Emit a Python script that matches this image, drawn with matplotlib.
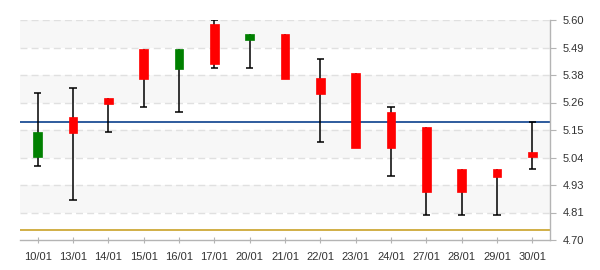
import numpy as np
import matplotlib
matplotlib.use("Agg")
import matplotlib.pyplot as plt

plt.rcParams['font.family'] = ['Liberation Sans', 'DejaVu Sans']

# daily candles
dates  = ["10/01", "13/01", "14/01", "15/01", "16/01", "17/01", "20/01", "21/01",
          "22/01", "23/01", "24/01", "27/01", "28/01", "29/01", "30/01"]
opens  = [5.041, 5.203, 5.281, 5.481, 5.401, 5.584, 5.520, 5.543,
          5.363, 5.383, 5.224, 5.162, 4.990, 4.990, 5.060]
highs  = [5.300, 5.322, 5.281, 5.481, 5.481, 5.599, 5.543, 5.543,
          5.439, 5.383, 5.243, 5.162, 4.990, 4.990, 5.181]
lows   = [5.001, 4.862, 5.140, 5.244, 5.222, 5.402, 5.402, 5.360,
          5.100, 5.078, 4.960, 4.801, 4.801, 4.801, 4.989]
closes = [5.142, 5.139, 5.258, 5.360, 5.481, 5.421, 5.543, 5.360,
          5.299, 5.078, 5.078, 4.898, 4.898, 4.959, 5.041]

ref_blue = 5.181
ref_gold = 4.7395
y_min, y_max = 4.70, 5.60
y_labels = ["4.70", "4.81", "4.93", "5.04", "5.15", "5.26", "5.38", "5.49", "5.60"]

opens = np.array(opens)
closes = np.array(closes)
highs = np.array(highs)
lows = np.array(lows)
x = np.arange(len(dates))

fig = plt.figure(figsize=(6, 2.7), dpi=100)
ax = fig.add_axes([20/600, 30/270, 530/600, 220/270])

# alternating background bands
ticks = np.linspace(y_min, y_max, 9)
for i in range(8):
    lo, hi = ticks[7 - i], ticks[8 - i]
    if i % 2 == 0:
        ax.axhspan(lo, hi, color='#f7f7f7', zorder=0, lw=0)
for t in ticks[1:]:
    ax.axhline(t, color='#e0e0e0', lw=1.0, ls=(0, (5, 3)), zorder=1)

ax.axhline(ref_blue, color='#0a3f8c', lw=1.2, zorder=2)
ax.axhline(ref_gold, color='#c9a227', lw=1.2, zorder=2)

# wicks and caps
ax.vlines(x, lows, highs, color='black', lw=1.1, zorder=3)
body_top = np.maximum(opens, closes)
body_bot = np.minimum(opens, closes)
cap_w = 0.1
for xi, h, l, bt, bb in zip(x, highs, lows, body_top, body_bot):
    if h > bt + 0.003:
        ax.hlines(h, xi - cap_w, xi + cap_w, color='black', lw=1.1, zorder=3)
    if l < bb - 0.003:
        ax.hlines(l, xi - cap_w, xi + cap_w, color='black', lw=1.1, zorder=3)

colors = np.where(closes > opens, '#008000', '#ff0000')
ax.bar(x, body_top - body_bot, bottom=body_bot, width=0.25, color=colors,
       edgecolor=colors, lw=0.5, zorder=4)

ax.set_xlim(-0.5, len(dates) - 0.5)
ax.set_ylim(y_min, y_max)
ax.set_xticks(x)
ax.set_xticklabels(dates)
ax.set_yticks(ticks)
ax.set_yticklabels(y_labels)
ax.yaxis.tick_right()

for s in ['top', 'left']:
    ax.spines[s].set_visible(False)
for s in ['right', 'bottom']:
    ax.spines[s].set_color('#b4b4b4')
    ax.spines[s].set_linewidth(1.0)
ax.tick_params(axis='x', direction='inout', length=5, color='#b4b4b4',
               labelsize=8, labelcolor='#333333', pad=6)
ax.tick_params(axis='y', direction='out', length=4, color='#b4b4b4',
               labelsize=8, labelcolor='#333333', pad=5)

fig.savefig("out.png", dpi=100)
